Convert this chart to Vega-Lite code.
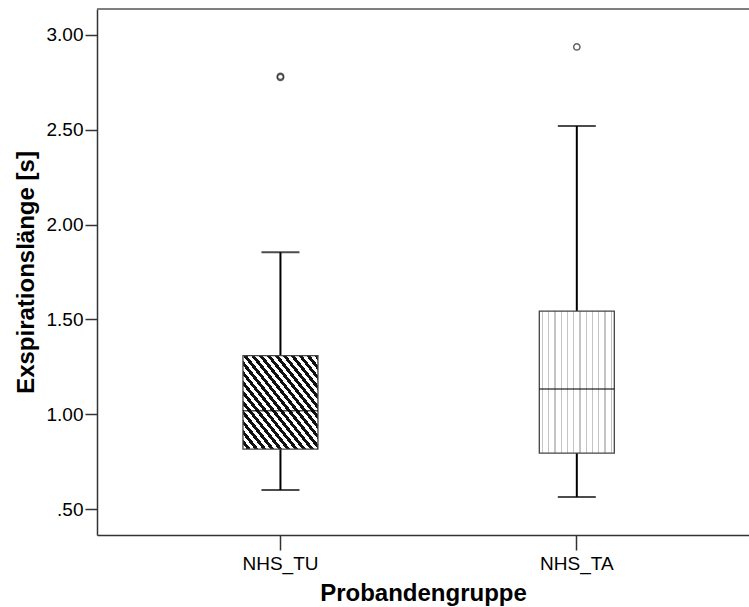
{
  "$schema": "https://vega.github.io/schema/vega-lite/v6.json",
  "width": 652,
  "height": 526,
  "autosize": {"type": "none"},
  "padding": {"left": 97, "top": 9, "right": 0, "bottom": 72},
  "background": "white",
  "config": {"view": {"stroke": null}, "font": "Liberation Sans"},
  "datasets": {
    "boxes": [
      {"group": "NHS_TU", "lower": 0.6, "q1": 0.816, "median": 1.018, "q3": 1.309, "upper": 1.854},
      {"group": "NHS_TA", "lower": 0.563, "q1": 0.795, "median": 1.133, "q3": 1.544, "upper": 2.52}
    ],
    "outliers": [
      {"group": "NHS_TU", "value": 2.776},
      {"group": "NHS_TU", "value": 2.782},
      {"group": "NHS_TA", "value": 2.937}
    ],
    "frame": [{"top": 3.137}]
  },
  "layer": [
    {
      "data": {"name": "boxes"},
      "mark": {"type": "rule", "color": "black", "strokeWidth": 2},
      "encoding": {
        "x": {
          "field": "group", "type": "nominal",
          "scale": {"domain": ["NHS_TU", "NHS_TA"], "paddingInner": 0, "paddingOuter": 0.1, "align": 0.595},
          "axis": {
            "title": "Probandengruppe", "labelAngle": 0, "labelFontSize": 19, "labelColor": "black",
            "titleFontSize": 24, "titleFontWeight": "bold", "titleColor": "black",
            "tickSize": 15, "tickColor": "#333", "tickWidth": 1.5, "domainColor": "#333", "domainWidth": 1.5,
            "labelPadding": 4, "titlePadding": 8
          }
        },
        "y": {
          "field": "lower", "type": "quantitative",
          "scale": {"domain": [0.363, 3.137], "nice": false, "zero": false},
          "axis": {
            "title": "Exspirationslänge [s]", "values": [0.5, 1, 1.5, 2, 2.5, 3],
            "labelExpr": "datum.value < 1 ? '.' + substring(format(datum.value, '.2f'), 2) : format(datum.value, '.2f')",
            "grid": false, "labelFontSize": 19, "labelColor": "black",
            "titleFontSize": 24, "titleFontWeight": "bold", "titleColor": "black",
            "tickSize": 12, "tickColor": "#333", "tickWidth": 1.5, "domainColor": "#333", "domainWidth": 1.5,
            "labelPadding": 2, "titlePadding": 8
          }
        },
        "y2": {"field": "upper"}
      }
    },
    {
      "data": {"name": "boxes"},
      "mark": {"type": "tick", "color": "black", "size": 38, "thickness": 2},
      "encoding": {
        "x": {"field": "group", "type": "nominal", "scale": {"domain": ["NHS_TU", "NHS_TA"], "paddingInner": 0, "paddingOuter": 0.1, "align": 0.595}},
        "y": {"field": "lower", "type": "quantitative", "scale": {"domain": [0.363, 3.137], "nice": false, "zero": false}}
      }
    },
    {
      "data": {"name": "boxes"},
      "mark": {"type": "tick", "color": "black", "size": 38, "thickness": 2},
      "encoding": {
        "x": {"field": "group", "type": "nominal", "scale": {"domain": ["NHS_TU", "NHS_TA"], "paddingInner": 0, "paddingOuter": 0.1, "align": 0.595}},
        "y": {"field": "upper", "type": "quantitative", "scale": {"domain": [0.363, 3.137], "nice": false, "zero": false}}
      }
    },
    {
      "data": {"name": "boxes"},
      "transform": [{"filter": "datum.group === 'NHS_TU'"}],
      "mark": {
        "type": "bar", "size": 75, "stroke": "#444", "strokeWidth": 1.3,
        "fill": {
          "gradient": "linear", "x1": 0, "y1": 1, "x2": 1, "y2": 0,
          "stops": [
            {"offset": 0, "color": "white"}, {"offset": 0.0263, "color": "white"}, {"offset": 0.0263, "color": "#111"}, {"offset": 0.0526, "color": "#111"},
            {"offset": 0.0526, "color": "white"}, {"offset": 0.0789, "color": "white"}, {"offset": 0.0789, "color": "#111"}, {"offset": 0.1053, "color": "#111"},
            {"offset": 0.1053, "color": "white"}, {"offset": 0.1316, "color": "white"}, {"offset": 0.1316, "color": "#111"}, {"offset": 0.1579, "color": "#111"},
            {"offset": 0.1579, "color": "white"}, {"offset": 0.1842, "color": "white"}, {"offset": 0.1842, "color": "#111"}, {"offset": 0.2105, "color": "#111"},
            {"offset": 0.2105, "color": "white"}, {"offset": 0.2368, "color": "white"}, {"offset": 0.2368, "color": "#111"}, {"offset": 0.2632, "color": "#111"},
            {"offset": 0.2632, "color": "white"}, {"offset": 0.2895, "color": "white"}, {"offset": 0.2895, "color": "#111"}, {"offset": 0.3158, "color": "#111"},
            {"offset": 0.3158, "color": "white"}, {"offset": 0.3421, "color": "white"}, {"offset": 0.3421, "color": "#111"}, {"offset": 0.3684, "color": "#111"},
            {"offset": 0.3684, "color": "white"}, {"offset": 0.3947, "color": "white"}, {"offset": 0.3947, "color": "#111"}, {"offset": 0.4211, "color": "#111"},
            {"offset": 0.4211, "color": "white"}, {"offset": 0.4474, "color": "white"}, {"offset": 0.4474, "color": "#111"}, {"offset": 0.4737, "color": "#111"},
            {"offset": 0.4737, "color": "white"}, {"offset": 0.5, "color": "white"}, {"offset": 0.5, "color": "#111"}, {"offset": 0.5263, "color": "#111"},
            {"offset": 0.5263, "color": "white"}, {"offset": 0.5526, "color": "white"}, {"offset": 0.5526, "color": "#111"}, {"offset": 0.5789, "color": "#111"},
            {"offset": 0.5789, "color": "white"}, {"offset": 0.6053, "color": "white"}, {"offset": 0.6053, "color": "#111"}, {"offset": 0.6316, "color": "#111"},
            {"offset": 0.6316, "color": "white"}, {"offset": 0.6579, "color": "white"}, {"offset": 0.6579, "color": "#111"}, {"offset": 0.6842, "color": "#111"},
            {"offset": 0.6842, "color": "white"}, {"offset": 0.7105, "color": "white"}, {"offset": 0.7105, "color": "#111"}, {"offset": 0.7368, "color": "#111"},
            {"offset": 0.7368, "color": "white"}, {"offset": 0.7632, "color": "white"}, {"offset": 0.7632, "color": "#111"}, {"offset": 0.7895, "color": "#111"},
            {"offset": 0.7895, "color": "white"}, {"offset": 0.8158, "color": "white"}, {"offset": 0.8158, "color": "#111"}, {"offset": 0.8421, "color": "#111"},
            {"offset": 0.8421, "color": "white"}, {"offset": 0.8684, "color": "white"}, {"offset": 0.8684, "color": "#111"}, {"offset": 0.8947, "color": "#111"},
            {"offset": 0.8947, "color": "white"}, {"offset": 0.9211, "color": "white"}, {"offset": 0.9211, "color": "#111"}, {"offset": 0.9474, "color": "#111"},
            {"offset": 0.9474, "color": "white"}, {"offset": 0.9737, "color": "white"}, {"offset": 0.9737, "color": "#111"}, {"offset": 1, "color": "#111"}
          ]
        }
      },
      "encoding": {
        "x": {"field": "group", "type": "nominal", "scale": {"domain": ["NHS_TU", "NHS_TA"], "paddingInner": 0, "paddingOuter": 0.1, "align": 0.595}},
        "y": {"field": "q1", "type": "quantitative", "scale": {"domain": [0.363, 3.137], "nice": false, "zero": false}},
        "y2": {"field": "q3"}
      }
    },
    {
      "data": {"name": "boxes"},
      "transform": [{"filter": "datum.group === 'NHS_TA'"}],
      "mark": {
        "type": "bar", "size": 75, "stroke": "#444", "strokeWidth": 1.3,
        "fill": {
          "gradient": "linear", "x1": 0, "y1": 0, "x2": 1, "y2": 0,
          "stops": [
            {"offset": 0, "color": "white"},
            {"offset": 0.0333, "color": "white"}, {"offset": 0.0333, "color": "#c4c4c4"}, {"offset": 0.05, "color": "#c4c4c4"}, {"offset": 0.05, "color": "white"},
            {"offset": 0.1167, "color": "white"}, {"offset": 0.1167, "color": "#c4c4c4"}, {"offset": 0.1333, "color": "#c4c4c4"}, {"offset": 0.1333, "color": "white"},
            {"offset": 0.2, "color": "white"}, {"offset": 0.2, "color": "#c4c4c4"}, {"offset": 0.2167, "color": "#c4c4c4"}, {"offset": 0.2167, "color": "white"},
            {"offset": 0.2833, "color": "white"}, {"offset": 0.2833, "color": "#c4c4c4"}, {"offset": 0.3, "color": "#c4c4c4"}, {"offset": 0.3, "color": "white"},
            {"offset": 0.3667, "color": "white"}, {"offset": 0.3667, "color": "#c4c4c4"}, {"offset": 0.3833, "color": "#c4c4c4"}, {"offset": 0.3833, "color": "white"},
            {"offset": 0.45, "color": "white"}, {"offset": 0.45, "color": "#c4c4c4"}, {"offset": 0.4667, "color": "#c4c4c4"}, {"offset": 0.4667, "color": "white"},
            {"offset": 0.5333, "color": "white"}, {"offset": 0.5333, "color": "#c4c4c4"}, {"offset": 0.55, "color": "#c4c4c4"}, {"offset": 0.55, "color": "white"},
            {"offset": 0.6167, "color": "white"}, {"offset": 0.6167, "color": "#c4c4c4"}, {"offset": 0.6333, "color": "#c4c4c4"}, {"offset": 0.6333, "color": "white"},
            {"offset": 0.7, "color": "white"}, {"offset": 0.7, "color": "#c4c4c4"}, {"offset": 0.7167, "color": "#c4c4c4"}, {"offset": 0.7167, "color": "white"},
            {"offset": 0.7833, "color": "white"}, {"offset": 0.7833, "color": "#c4c4c4"}, {"offset": 0.8, "color": "#c4c4c4"}, {"offset": 0.8, "color": "white"},
            {"offset": 0.8667, "color": "white"}, {"offset": 0.8667, "color": "#c4c4c4"}, {"offset": 0.8833, "color": "#c4c4c4"}, {"offset": 0.8833, "color": "white"},
            {"offset": 0.95, "color": "white"}, {"offset": 0.95, "color": "#c4c4c4"}, {"offset": 0.9667, "color": "#c4c4c4"}, {"offset": 0.9667, "color": "white"},
            {"offset": 1, "color": "white"}
          ]
        }
      },
      "encoding": {
        "x": {"field": "group", "type": "nominal", "scale": {"domain": ["NHS_TU", "NHS_TA"], "paddingInner": 0, "paddingOuter": 0.1, "align": 0.595}},
        "y": {"field": "q1", "type": "quantitative", "scale": {"domain": [0.363, 3.137], "nice": false, "zero": false}},
        "y2": {"field": "q3"}
      }
    },
    {
      "data": {"name": "boxes"},
      "mark": {"type": "tick", "color": "black", "size": 75, "thickness": 1.6},
      "encoding": {
        "x": {"field": "group", "type": "nominal", "scale": {"domain": ["NHS_TU", "NHS_TA"], "paddingInner": 0, "paddingOuter": 0.1, "align": 0.595}},
        "y": {"field": "median", "type": "quantitative", "scale": {"domain": [0.363, 3.137], "nice": false, "zero": false}}
      }
    },
    {
      "data": {"name": "outliers"},
      "mark": {"type": "point", "shape": "circle", "filled": false, "size": 40, "stroke": "#222", "strokeWidth": 1.5},
      "encoding": {
        "x": {"field": "group", "type": "nominal", "scale": {"domain": ["NHS_TU", "NHS_TA"], "paddingInner": 0, "paddingOuter": 0.1, "align": 0.595}},
        "y": {"field": "value", "type": "quantitative", "scale": {"domain": [0.363, 3.137], "nice": false, "zero": false}}
      }
    },
    {
      "data": {"name": "frame"},
      "mark": {"type": "rule", "color": "#555", "strokeWidth": 1.5},
      "encoding": {
        "y": {"field": "top", "type": "quantitative", "scale": {"domain": [0.363, 3.137], "nice": false, "zero": false}}
      }
    }
  ]
}
